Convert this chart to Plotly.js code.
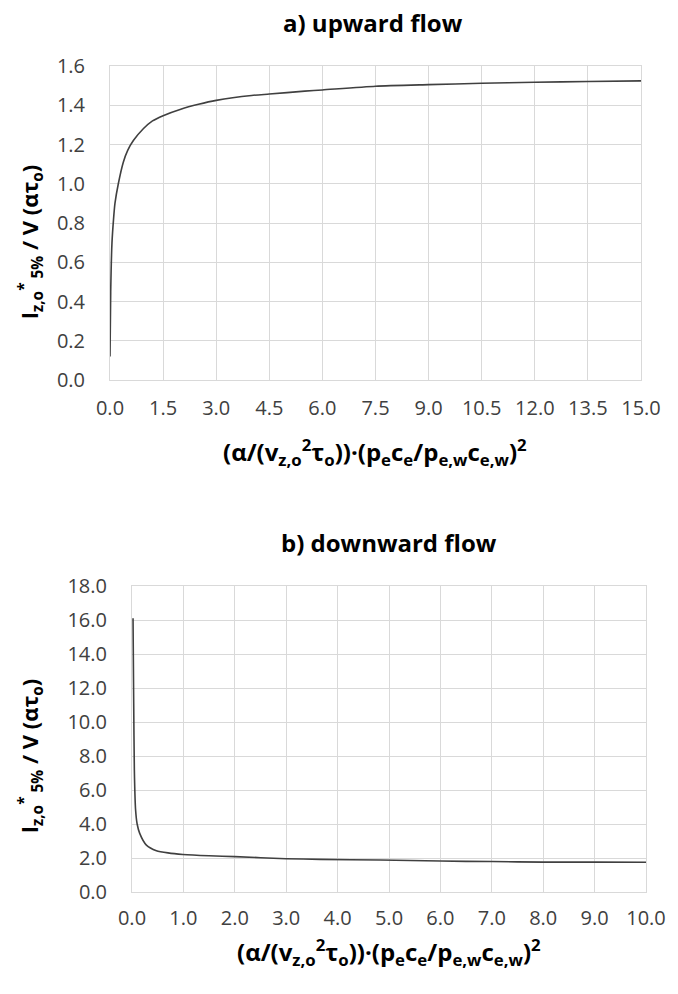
<!DOCTYPE html>
<html>
<head>
<meta charset="utf-8">
<script src="https://cdn.plot.ly/plotly-3.0.1.min.js"></script>
<style>html,body{margin:0;padding:0;background:#fff;}#chart{width:678px;height:994px;}</style>
</head>
<body>
<div id="chart"></div>
<script>
// a) upward flow
const upX = [0, 0.02, 0.056, 0.1, 0.14, 0.235, 0.376, 0.5, 0.66, 0.94, 1.2, 1.5, 2.0, 2.5, 3.0, 4.0, 4.5, 5.5, 6.0, 7.5, 9.0, 10.5, 12.0, 13.5, 15.0];
const upY = [0.12, 0.45, 0.70, 0.82, 0.90, 1.00, 1.11, 1.17, 1.22, 1.28, 1.32, 1.347, 1.38, 1.405, 1.425, 1.45, 1.457, 1.472, 1.478, 1.497, 1.505, 1.512, 1.517, 1.521, 1.524];
// b) downward flow
const downX = [0.02, 0.033, 0.046, 0.07, 0.1, 0.15, 0.28, 0.475, 0.7, 0.99, 1.5, 2.0, 3.0, 3.66, 4.83, 6.0, 7.0, 8.0, 9.0, 10.0];
const downY = [16.1, 11.1, 7.18, 4.82, 4.0, 3.45, 2.76, 2.43, 2.3, 2.21, 2.13, 2.08, 1.96, 1.92, 1.88, 1.82, 1.79, 1.76, 1.755, 1.75];
const upXTicks = [0, 1.5, 3, 4.5, 6, 7.5, 9, 10.5, 12, 13.5, 15];
const upYTicks = [0, 0.2, 0.4, 0.6, 0.8, 1.0, 1.2, 1.4, 1.6];
const downXTicks = [0, 1, 2, 3, 4, 5, 6, 7, 8, 9, 10];
const downYTicks = [0, 2, 4, 6, 8, 10, 12, 14, 16, 18];

const titleTop = "<b>a) upward flow</b>";
const titleBottom = "<b>b) downward flow</b>";
const xTitle = "<b>(α/(v<sub>z,o</sub><sup>2</sup>τ<sub>o</sub>))·(p<sub>e</sub>c<sub>e</sub>/p<sub>e,w</sub>c<sub>e,w</sub>)<sup>2</sup></b>";
const yTitle = "<b>l<sub>z,o</sub><sup>*</sup><sub> 5%</sub> / V (ατ<sub>o</sub>)</b>";

const W = 678, H = 994;
const px = v => v / W;
const py = v => 1 - v / H;
const FONT = "Open Sans, sans-serif";
const tickFont = {family: FONT, size: 20, color: '#404040'};
const grid = '#d9d9d9';

function axis(extra) {
  return Object.assign({
    showgrid: true, gridcolor: grid, gridwidth: 1,
    showline: true, linecolor: grid, linewidth: 1, mirror: true,
    zeroline: false, ticks: '', ticklabelstandoff: 10,
    tickfont: tickFont, fixedrange: true
  }, extra);
}

const traces = [
  {x: upX, y: upY, type: 'scatter', mode: 'lines', line: {color: '#404040', width: 1.6, shape: 'spline', smoothing: 0.6}, xaxis: 'x', yaxis: 'y', hoverinfo: 'skip'},
  {x: downX, y: downY, type: 'scatter', mode: 'lines', line: {color: '#404040', width: 1.6, shape: 'spline', smoothing: 0.6}, xaxis: 'x2', yaxis: 'y2', hoverinfo: 'skip'}
];

const layout = {
  width: W, height: H,
  margin: {l: 0, r: 0, t: 0, b: 0},
  paper_bgcolor: '#fff', plot_bgcolor: '#fff',
  showlegend: false,
  xaxis: axis({domain: [px(110), px(641)], range: [0, 15], tickvals: upXTicks, ticktext: upXTicks.map(v => v.toFixed(1)), anchor: 'y'}),
  yaxis: axis({domain: [py(380), py(66)], range: [0, 1.6], tickvals: upYTicks, ticktext: upYTicks.map(v => v.toFixed(1)), anchor: 'x', ticklabelstandoff: 20}),
  xaxis2: axis({domain: [px(132), px(646)], range: [0, 10], tickvals: downXTicks, ticktext: downXTicks.map(v => v.toFixed(1)), anchor: 'y2', ticklabelstandoff: 8}),
  yaxis2: axis({domain: [py(892), py(586)], range: [0, 18], tickvals: downYTicks, ticktext: downYTicks.map(v => v.toFixed(1)), anchor: 'x2', ticklabelstandoff: 20}),
  annotations: [
    {text: titleTop, x: px(373), y: py(23), xref: 'paper', yref: 'paper', showarrow: false, xanchor: 'center', yanchor: 'middle', font: {family: FONT, size: 24, color: '#000'}},
    {text: titleBottom, x: px(389), y: py(542), xref: 'paper', yref: 'paper', showarrow: false, xanchor: 'center', yanchor: 'middle', font: {family: FONT, size: 24, color: '#000'}},
    {text: xTitle, x: px(375), y: py(452), xref: 'paper', yref: 'paper', showarrow: false, xanchor: 'center', yanchor: 'middle', font: {family: FONT, size: 24, color: '#000'}},
    {text: xTitle, x: px(389), y: py(952), xref: 'paper', yref: 'paper', showarrow: false, xanchor: 'center', yanchor: 'middle', font: {family: FONT, size: 24, color: '#000'}},
    {text: yTitle, x: px(30), y: py(242), xref: 'paper', yref: 'paper', showarrow: false, xanchor: 'center', yanchor: 'middle', textangle: -90, font: {family: FONT, size: 22, color: '#000'}},
    {text: yTitle, x: px(30), y: py(756), xref: 'paper', yref: 'paper', showarrow: false, xanchor: 'center', yanchor: 'middle', textangle: -90, font: {family: FONT, size: 22, color: '#000'}}
  ]
};

Plotly.newPlot('chart', traces, layout, {staticPlot: true, displayModeBar: false});
</script>
</body>
</html>
